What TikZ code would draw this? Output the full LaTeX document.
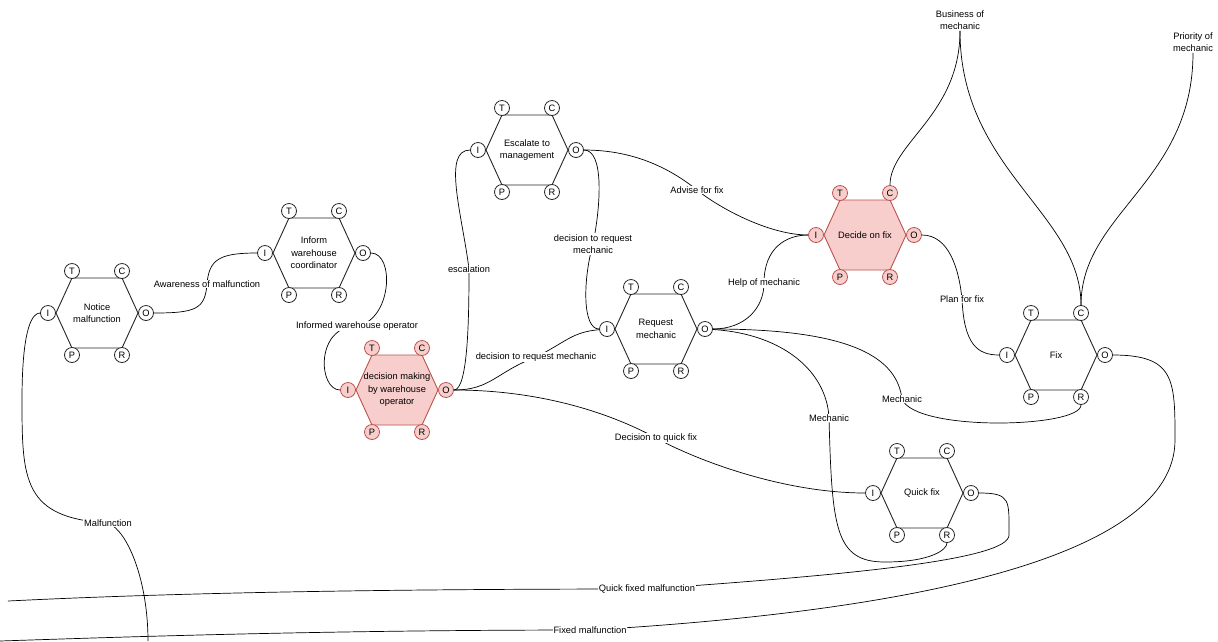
\documentclass[tikz,border=0pt]{standalone}
\usepackage{fontspec}
\setmainfont{Liberation Sans}
\usepackage{tikz}
\definecolor{critfill}{HTML}{F8CECC}
\definecolor{critline}{HTML}{B85450}

% one FRAM function: name, x, y, text, look
\newcommand{\framfn}[5]{%
  \begin{scope}[shift={(#2,#3)}]
    \draw[hexa,#5] (-41,0) -- (-25,-35) -- (25,-35) -- (41,0) -- (25,35) -- (-25,35) -- cycle;
    \node[fntext] (#1) at (0,0) {#4};
    \foreach \p/\dx/\dy in {T/-25/-42,C/25/-42,I/-49/0,O/49/0,P/-25/42,R/25/42}
      \node[port,#5] (#1-\p) at (\dx,\dy) {\p};
  \end{scope}}

\begin{document}
\begin{tikzpicture}[x=1pt,y=-1pt,
  every node/.style={font=\fontsize{9.3}{12.5}\selectfont},
  hexa/.style={line width=0.9pt},
  fntext/.style={align=center,inner sep=0pt},
  port/.style={circle,line width=0.8pt,minimum size=15pt,inner sep=0pt},
  plain/.style={draw=black!85,fill=white},
  crit/.style={draw=critline,fill=critfill},
  flow/.style={line width=0.7pt},
  lbl/.style={fill=white,inner sep=1pt,align=center}]
\useasboundingbox (0,0) rectangle (1218,641);

% functions
\framfn{nm}{97}{313}{Notice\\malfunction}{plain}
\framfn{inf}{314}{253}{Inform\\warehouse\\coordinator}{plain}
\framfn{dm}{397}{390}{decision making\\by warehouse\\operator}{crit}
\framfn{esc}{527}{150}{Escalate to\\management}{plain}
\framfn{req}{656}{329}{Request\\mechanic}{plain}
\framfn{dec}{865}{235}{Decide on fix}{crit}
\framfn{fix}{1056}{355}{Fix}{plain}
\framfn{qf}{922}{493}{Quick fix}{plain}

% free ends
\coordinate (malEnd) at (148,641);
\coordinate (qfEnd) at (8,601);
\coordinate (fixEnd) at (0,641);
\node[lbl] (lBus) at (960,20) {Business of\\mechanic};
\node[lbl] (lPri) at (1193,42) {Priority of\\mechanic};

% couplings
\draw[flow] (nm-O) .. controls +(50,0) and +(-2,25) .. (207,284) node[lbl] (lAware) {Awareness of malfunction}
  .. controls +(2,-25) and +(-45,0) .. (inf-I);
\draw[flow] (inf-O) .. controls +(32,0) and +(35,-6) .. (357,326) node[lbl] (lInformed) {Informed warehouse operator}
  .. controls +(-42,0) and +(-30,0) .. (dm-I);
\draw[flow] (dm-O) .. controls +(22,0) and +(0,50) .. (469,269) node[lbl] (lEscal) {escalation}
  .. controls +(-7,-55) and +(-36,0) .. (esc-I);
\draw[flow] (esc-O) .. controls +(28,0) and +(8,-40) .. (593,244) node[lbl] (lReqA) {decision to request\\mechanic}
  .. controls +(-10,35) and +(-25,0) .. (req-I);
\draw[flow] (esc-O) .. controls +(60,0) and +(-25,-20) .. (697,190) node[lbl] (lAdvise) {Advise for fix}
  .. controls +(25,20) and +(-45,0) .. (dec-I);
\draw[flow] (req-O) .. controls +(40,0) and +(0,25) .. (764,283) node[lbl] (lHelp) {Help of mechanic}
  .. controls +(0,-35) and +(-30,0) .. (dec-I);
\draw[flow] (dec-O) .. controls +(35,0) and +(-3,-30) .. (962,299) node[lbl] (lPlan) {Plan for fix}
  .. controls +(2,45) and +(-30,0) .. (fix-I);
\draw[flow] (dm-O) .. controls +(45,0) and +(-40,15) .. (536,357) node[lbl] (lReqB) {decision to request mechanic}
  .. controls +(30,-15) and +(-35,3) .. (req-I);
\draw[flow] (dm-O) .. controls +(100,0) and +(-40,-22) .. (656,438) node[lbl] (lQuick) {Decision to quick fix}
  .. controls +(40,22) and +(-90,0) .. (qf-I);
\draw[flow] (req-O) .. controls +(80,5) and +(-2,-45) .. (829,418) node[lbl] (lMechA) {Mechanic}
  .. controls +(3,110) and +(-50,0) .. (885,562) .. controls +(45,0) and +(0,15) .. (qf-R);
\draw[flow] (req-O) .. controls +(150,0) and +(-5,-40) .. (902,399) node[lbl] (lMechB) {Mechanic}
  .. controls +(13,33) and +(0,31) .. (fix-R);
\draw[flow] (fix-O) .. controls +(70,0) and +(0,-60) .. (1175,440)
  .. controls +(0,120) and +(310,-18) .. (590,630) node[lbl] (lFixed) {Fixed malfunction}
  .. controls +(-250,0) and +(150,-5) .. (fixEnd);
\draw[flow] (qf-O) .. controls +(40,0) and +(0,-35) .. (1009,535)
  .. controls +(0,25) and +(200,-14) .. (647,589) node[lbl] (lQfixed) {Quick fixed malfunction}
  .. controls +(-200,0) and +(200,-10) .. (qfEnd);
\draw[flow] (malEnd) .. controls +(0,-60) and +(20,8) .. (108,523) node[lbl] (lMal) {Malfunction}
  .. controls +(-85,-5) and +(0,80) .. (22,400) .. controls +(0,-75) and +(-15,0) .. (nm-I);
\draw[flow] (lBus) .. controls +(0,95) and +(0,-50) .. (dec-C);
\draw[flow] (lBus) .. controls +(0,150) and +(0,-100) .. (fix-C);
\draw[flow] (lPri) .. controls +(0,140) and +(0,-100) .. (fix-C);
\end{tikzpicture}
\end{document}
